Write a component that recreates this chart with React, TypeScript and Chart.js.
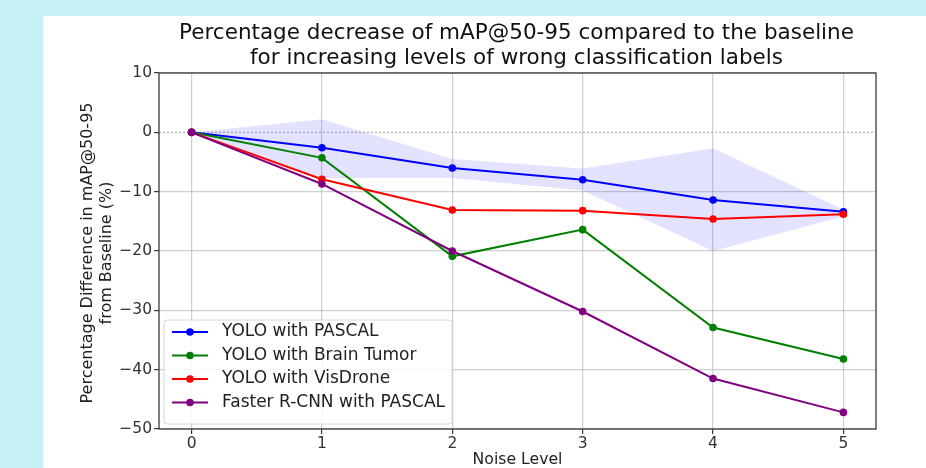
import React, { useEffect, useRef } from "react";
import { Chart, registerables } from "chart.js";

Chart.register(...registerables);

const noiseLevels = [0, 1, 2, 3, 4, 5];
const xTickLabels = ["0", "1", "2", "3", "4", "5"];
const yTickValues = [10, 0, -10, -20, -30, -40, -50];

const yoloPascal = [0, -2.6, -6.0, -8.0, -11.4, -13.4];
const yoloPascalUpper = [0, 2.2, -4.5, -6.1, -2.7, -13.0];
const yoloPascalLower = [0, -7.7, -7.7, -9.8, -20.0, -14.2];
const yoloBrainTumor = [0, -4.3, -20.9, -16.4, -32.9, -38.2];
const yoloVisDrone = [0, -7.9, -13.1, -13.2, -14.6, -13.8];
const fasterRcnnPascal = [0, -8.7, -20.0, -30.2, -41.5, -47.2];

const seriesLabels = [
  "YOLO with PASCAL",
  "YOLO with Brain Tumor",
  "YOLO with VisDrone",
  "Faster R-CNN with PASCAL",
];
const seriesColors = ["#0000ff", "#008000", "#ff0000", "#800080"];

const titleLines = [
  "Percentage decrease of mAP@50-95 compared to the baseline",
  "for increasing levels of wrong classification labels",
];
const yTitleLines = ["Percentage Difference in mAP@50-95", "from Baseline (%)"];
const xTitle = "Noise Level";

const FONT = "'DejaVu Sans', sans-serif";

const toPts = (arr: number[]) => arr.map((y, i) => ({ x: noiseLevels[i], y }));

const decorPlugin = {
  id: "decor",
  beforeDatasetsDraw(chart: any) {
    const { ctx, chartArea, scales } = chart;
    const y0 = scales.y.getPixelForValue(0);
    ctx.save();
    ctx.strokeStyle = "rgba(128,128,128,0.75)";
    ctx.lineWidth = 1;
    ctx.setLineDash([2, 2]);
    ctx.beginPath();
    ctx.moveTo(chartArea.left, y0);
    ctx.lineTo(chartArea.right, y0);
    ctx.stroke();
    ctx.restore();
  },
  afterDraw(chart: any) {
    const { ctx, chartArea } = chart;
    const cx = (chartArea.left + chartArea.right) / 2;
    ctx.save();
    // spines
    ctx.strokeStyle = "#3a3a3a";
    ctx.lineWidth = 1.3;
    ctx.strokeRect(chartArea.left, chartArea.top, chartArea.right - chartArea.left, chartArea.bottom - chartArea.top);

    // title
    ctx.fillStyle = "#111";
    ctx.textAlign = "center";
    ctx.textBaseline = "middle";
    ctx.font = `21.5px ${FONT}`;
    ctx.fillText(titleLines[0], cx - 1, 33);
    ctx.fillText(titleLines[1], cx - 1, 58);

    // x title
    ctx.font = `15.7px ${FONT}`;
    ctx.fillStyle = "#222";
    ctx.fillText(xTitle, cx, 460);

    // y title
    ctx.font = `16px ${FONT}`;
    const cy = (chartArea.top + chartArea.bottom) / 2 + 2;
    ctx.save();
    ctx.translate(88, cy);
    ctx.rotate(-Math.PI / 2);
    ctx.fillText(yTitleLines[0], 0, 0);
    ctx.fillText(yTitleLines[1], 0, 19);
    ctx.restore();

    // legend
    ctx.font = `17px ${FONT}`;
    const textX = 222;
    let maxW = 0;
    seriesLabels.forEach((l) => (maxW = Math.max(maxW, ctx.measureText(l).width)));
    const bx = 164, by = 320, bw = textX + maxW + 7 - bx, bh = 104;
    ctx.fillStyle = "rgba(255,255,255,0.85)";
    ctx.strokeStyle = "#d6d6d6";
    ctx.lineWidth = 1;
    ctx.beginPath();
    (ctx as any).roundRect(bx, by, bw, bh, 3);
    ctx.fill();
    ctx.stroke();
    seriesLabels.forEach((label, i) => {
      const ry = 332 + i * 23.5;
      ctx.strokeStyle = seriesColors[i];
      ctx.lineWidth = 2;
      ctx.beginPath();
      ctx.moveTo(172, ry);
      ctx.lineTo(208, ry);
      ctx.stroke();
      ctx.fillStyle = seriesColors[i];
      ctx.beginPath();
      ctx.arc(190, ry, 3.8, 0, Math.PI * 2);
      ctx.fill();
      ctx.fillStyle = "#222";
      ctx.textAlign = "left";
      ctx.fillText(label, textX, ry);
    });
    ctx.restore();
  },
};

export default function App() {
  const ref = useRef<HTMLCanvasElement>(null);
  useEffect(() => {
    if (!ref.current) return;
    const lineDs = (data: number[], i: number, order: number) => ({
      label: seriesLabels[i],
      data: toPts(data),
      borderColor: seriesColors[i],
      backgroundColor: seriesColors[i],
      borderWidth: 2,
      pointRadius: 3.8,
      pointHoverRadius: 3.8,
      pointBorderWidth: 0,
      fill: false,
      tension: 0,
      order,
    });
    const chart = new Chart(ref.current, {
      type: "line",
      data: {
        datasets: [
          {
            label: "upper",
            data: toPts(yoloPascalUpper),
            borderWidth: 0,
            pointRadius: 0,
            backgroundColor: "rgba(0,0,255,0.11)",
            borderColor: "rgba(0,0,0,0)",
            fill: "+1",
            order: 10,
          },
          {
            label: "lower",
            data: toPts(yoloPascalLower),
            borderWidth: 0,
            pointRadius: 0,
            borderColor: "rgba(0,0,0,0)",
            backgroundColor: "rgba(0,0,0,0)",
            fill: false,
            order: 11,
          },
          lineDs(yoloPascal, 0, 4),
          lineDs(yoloBrainTumor, 1, 3),
          lineDs(yoloVisDrone, 2, 2),
          lineDs(fasterRcnnPascal, 3, 1),
        ] as any,
      },
      options: {
        responsive: false,
        animation: false,
        devicePixelRatio: 1,
        layout: { padding: { left: 109, right: 50, top: 73, bottom: 9 } },
        plugins: {
          legend: { display: false },
          title: { display: false },
          tooltip: { enabled: false },
          filler: { propagate: false },
        },
        events: [],
        scales: {
          x: {
            type: "linear",
            min: -0.25,
            max: 5.25,
            afterBuildTicks: (scale: any) => {
              scale.ticks = noiseLevels.map((v) => ({ value: v }));
            },
            afterFit: (scale: any) => {
              scale.height = 30;
            },
            ticks: {
              callback: (v: any) => xTickLabels[noiseLevels.indexOf(Number(v))] ?? "",
              font: { family: FONT, size: 15.5 },
              color: "#333",
              padding: 1,
              maxRotation: 0,
              autoSkip: false,
            },
            grid: {
              color: "rgba(175,175,175,0.6)",
              tickColor: "#3a3a3a",
              tickLength: 5,
              lineWidth: 1.2,
            },
            border: { display: false },
          },
          y: {
            type: "linear",
            min: -50,
            max: 10,
            afterBuildTicks: (scale: any) => {
              scale.ticks = yTickValues.map((v) => ({ value: v }));
            },
            afterFit: (scale: any) => {
              scale.width = 50;
            },
            ticks: {
              callback: (v: any) => (Number(v) < 0 ? "\u2212" + Math.abs(Number(v)) : String(v)),
              font: { family: FONT, size: 15.5 },
              color: "#333",
              padding: 2,
              autoSkip: false,
            },
            grid: {
              color: (c: any) => (c.tick && c.tick.value === 0 ? "rgba(0,0,0,0)" : "rgba(175,175,175,0.6)"),
              tickColor: "#3a3a3a",
              tickLength: 5,
              lineWidth: 1.2,
            },
            border: { display: false },
          },
        },
      },
      plugins: [decorPlugin],
    } as any);
    return () => chart.destroy();
  }, []);

  return (
    <div style={{ position: "fixed", left: 0, top: 0, width: 926, height: 468, background: "#c8f0f7" }}>
      <div style={{ position: "absolute", left: 43, top: 16, right: 0, bottom: 0, background: "#ffffff" }} />
      <canvas ref={ref} width={926} height={468} style={{ position: "absolute", left: 0, top: 0 }} />
    </div>
  );
}
